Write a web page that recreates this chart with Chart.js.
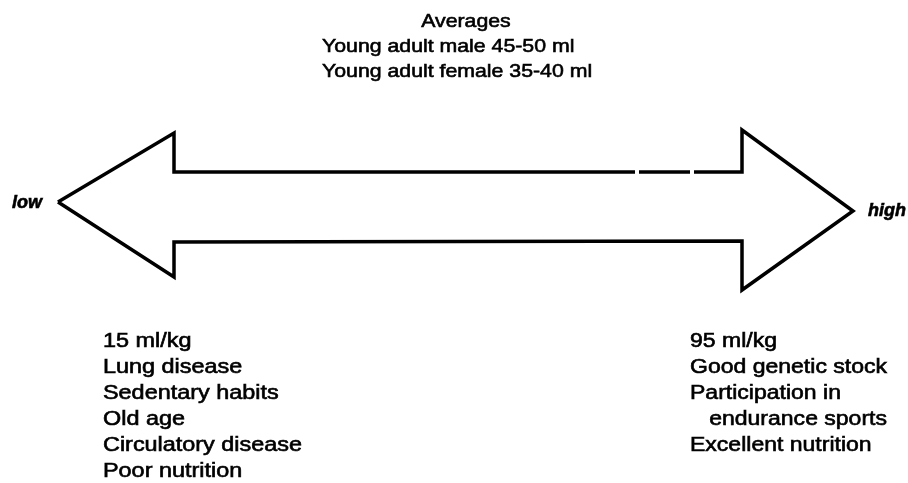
<!DOCTYPE html>
<html>
<head>
<meta charset="utf-8">
<script src="https://cdn.jsdelivr.net/npm/chart.js@4.4.1/dist/chart.umd.min.js"></script>
<style>
  html, body { margin: 0; padding: 0; background: #fff; }
  #wrap { width: 908px; height: 483px; }
</style>
</head>
<body>
<div id="wrap"><canvas id="diagram" width="908" height="483"></canvas></div>
<script>
// Contorno de la flecha doble (unidades del diagrama, y hacia abajo)
const arrowX = [58, 174, 174, 635, null, 639, 690, null, 694, 742, 742, 853, 742, 742, 174, 174, 58];
const arrowY = [202, 133, 172, 172, null, 172, 172, null, 172, 172, 130, 211, 290, 241, 242, 277, 202];

// Textos
const titleLines = ['Averages', 'Young adult male 45-50 ml', 'Young adult female 35-40 ml'];
const lowLines = ['15 ml/kg', 'Lung disease', 'Sedentary habits', 'Old age', 'Circulatory disease', 'Poor nutrition'];
const highLines = ['95 ml/kg', 'Good genetic stock', 'Participation in', '   endurance sports', 'Excellent nutrition'];
const endLabels = ['low', 'high'];

const outline = arrowX.map(function(x, i) {
    return { x: x, y: arrowY[i] };
});

// texto algo ensanchado y engrosado, como en el original escaneado
function wideText(ctx, text, x, y, sx, align) {
    const w = ctx.measureText(text).width * sx;
    let x0 = x;
    if (align === 'center') x0 = x - w / 2;
    ctx.save();
    ctx.translate(x0, y);
    ctx.scale(sx, 1);
    ctx.textAlign = 'left';
    ctx.lineWidth = 0.6;
    ctx.strokeStyle = '#000';
    ctx.fillText(text, 0, 0);
    ctx.strokeText(text, 0, 0);
    ctx.restore();
}

const textPlugin = {
    id: 'textos',
    afterDatasetsDraw: function(chart) {
        const ctx = chart.ctx;
        const sx = chart.scales.x;
        const sy = chart.scales.y;
        ctx.save();
        ctx.fillStyle = '#000';
        ctx.textBaseline = 'middle';

        // Encabezado
        ctx.font = '19px "Liberation Sans", Arial, sans-serif';
        wideText(ctx, titleLines[0], sx.getPixelForValue(466), sy.getPixelForValue(22), 1.12, 'center');
        wideText(ctx, titleLines[1], sx.getPixelForValue(322), sy.getPixelForValue(47), 1.12);
        wideText(ctx, titleLines[2], sx.getPixelForValue(322), sy.getPixelForValue(72), 1.12);

        // low / high
        ctx.font = 'italic bold 18px "Liberation Sans", Arial, sans-serif';
        wideText(ctx, endLabels[0], sx.getPixelForValue(12), sy.getPixelForValue(203), 1);
        wideText(ctx, endLabels[1], sx.getPixelForValue(868), sy.getPixelForValue(211), 1);

        // Listas inferiores
        ctx.font = '19.5px "Liberation Sans", Arial, sans-serif';
        lowLines.forEach(function(t, i) {
            wideText(ctx, t, sx.getPixelForValue(103), sy.getPixelForValue(342 + i * 26), 1.2);
        });
        highLines.forEach(function(t, i) {
            wideText(ctx, t, sx.getPixelForValue(690), sy.getPixelForValue(342 + i * 26), 1.18);
        });
        ctx.restore();
    }
};

new Chart(document.getElementById('diagram').getContext('2d'), {
    type: 'scatter',
    data: {
        datasets: [{
            data: outline,
            showLine: true,
            spanGaps: false,
            borderColor: '#000',
            borderWidth: 3.5,
            borderJoinStyle: 'miter',
            pointRadius: 0,
            fill: false,
            tension: 0
        }]
    },
    options: {
        responsive: false,
        animation: false,
        layout: { padding: 0 },
        plugins: {
            legend: { display: false },
            tooltip: { enabled: false }
        },
        scales: {
            x: { type: 'linear', min: 0, max: 908, display: false },
            y: { type: 'linear', min: 0, max: 483, reverse: true, display: false }
        }
    },
    plugins: [textPlugin]
});
</script>
</body>
</html>
